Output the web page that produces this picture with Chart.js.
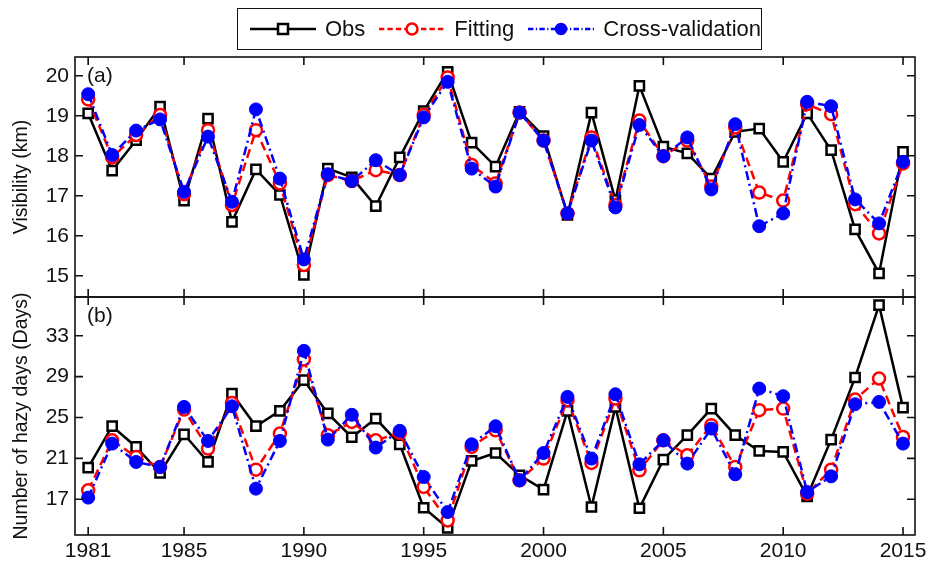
<!DOCTYPE html>
<html>
<head>
<meta charset="utf-8">
<script src="https://cdn.jsdelivr.net/npm/chart.js@4.4.1/dist/chart.umd.min.js"></script>
<style>
  body { margin: 0; background: #fff; }
  #wrap { position: relative; width: 930px; height: 565px; font-family: 'Liberation Sans', Arial, sans-serif; }
  #chartA { position: absolute; left: 0; top: 0; }
  #chartB { position: absolute; left: 0; top: 290px; }
  #legend { position: absolute; left: 237px; top: 8px; width: 525px; height: 42px; box-sizing: border-box;
            border: 1.5px solid #111; display: flex; align-items: center; padding-left: 12px; font-size: 22px; color: #111;
            white-space: nowrap; }
  .item { display: flex; align-items: center; margin-right: 14px; }
  .item svg { margin-right: 9px; }
</style>
</head>
<body>
<div id="wrap">
  <canvas id="chartA" width="930" height="300"></canvas>
  <canvas id="chartB" width="930" height="275"></canvas>
  <div id="legend"></div>
</div>
<script>
const years = [1981,1982,1983,1984,1985,1986,1987,1988,1989,1990,1991,1992,1993,1994,1995,1996,1997,1998,
  1999,2000,2001,2002,2003,2004,2005,2006,2007,2008,2009,2010,2011,2012,2013,2014,2015];
const xTicks = [1981, 1985, 1990, 1995, 2000, 2005, 2010, 2015];
const visTicks = [15, 16, 17, 18, 19, 20];
const hazeTicks = [17, 21, 25, 29, 33];
const seriesNames = ['Obs', 'Fitting', 'Cross-validation'];
const panelLabels = ['(a)', '(b)'];
const visTitle = 'Visibility (km)';
const hazeTitle = 'Number of hazy days (Days)';

// visibility, km
const visObs = [19.06,17.63,18.39,19.23,16.88,18.93,16.35,17.66,17.02,15.02,
  17.68,17.46,16.74,17.96,19.12,20.10,18.33,17.73,19.10,18.49,
  16.52,19.08,16.89,19.75,18.23,18.06,17.43,18.60,18.68,17.85,
  19.06,18.14,16.16,15.06,18.10];
const visFit = [19.41,17.96,18.52,19.02,17.04,18.64,16.77,18.64,17.31,15.27,
  17.52,17.37,17.64,17.52,19.02,19.96,17.77,17.31,19.08,18.38,
  16.56,18.46,16.77,18.88,17.99,18.38,17.23,18.71,17.08,16.88,
  19.29,19.04,16.79,16.06,17.81];
const visCV = [19.54,18.02,18.63,18.91,17.10,18.48,16.85,19.16,17.43,15.41,
  17.54,17.37,17.89,17.52,18.96,19.85,17.68,17.23,19.08,18.38,
  16.56,18.38,16.71,18.77,17.99,18.46,17.16,18.79,16.24,16.56,
  19.35,19.24,16.91,16.31,17.85];

// hazy days
const hazeObs = [20.1,24.15,22.12,19.57,23.36,20.65,27.35,24.15,25.65,28.66,
  25.4,23.07,24.9,22.38,16.17,14.2,20.75,21.53,19.34,17.94,
  25.65,16.24,26.04,16.12,20.88,23.27,25.88,23.27,21.73,21.63,
  17.28,22.84,28.92,36.0,25.97];
const hazeFit = [17.87,22.77,21.14,20.16,25.78,21.96,26.43,19.9,23.43,30.69,
  23.27,24.57,22.77,23.5,18.2,14.93,22.12,23.75,18.85,20.98,
  26.7,20.55,26.86,19.83,22.77,21.3,24.25,20.16,25.72,25.88,
  17.55,19.9,26.76,28.82,23.1];
const hazeCV = [17.16,22.45,20.65,20.16,26.04,22.71,26.1,18.04,22.71,31.53,
  22.84,25.27,22.06,23.7,19.18,15.75,22.38,24.15,18.85,21.53,
  27.02,20.98,27.28,20.42,22.77,20.49,23.92,19.44,27.84,27.09,
  17.71,19.24,26.3,26.53,22.45];

const FONT = "'Liberation Sans', Arial, sans-serif";
Chart.defaults.font.family = FONT;
Chart.defaults.color = '#111';

const styles = [
  { color: '#000', dash: [], pointStyle: 'rect', radius: 6.5, fill: '#fff', bw: 2.5, order: 3 },
  { color: '#f00', dash: [9, 5], pointStyle: 'circle', radius: 6, fill: '#fff', bw: 2.5, order: 2 },
  { color: '#0000ff', dash: [9, 4, 2, 4], pointStyle: 'circle', radius: 6.5, fill: '#0000ff', bw: 1, order: 1 }
];

function makeSets(arrs) {
  return arrs.map((vals, i) => {
    const s = styles[i];
    return {
      label: seriesNames[i],
      data: years.map((yr, k) => ({ x: yr, y: vals[k] })),
      borderColor: s.color,
      borderWidth: 2.5,
      borderDash: s.dash,
      pointStyle: s.pointStyle,
      pointRadius: s.radius,
      pointBorderWidth: s.bw,
      pointBorderColor: s.color,
      pointBackgroundColor: s.fill,
      order: s.order,
      tension: 0,
      clip: false
    };
  });
}

// MATLAB-like box with inward ticks and panel letter
const boxPlugin = {
  id: 'matlabBox',
  afterDraw(chart, args, opts) {
    const { ctx, chartArea: a, scales } = chart;
    const L = 8;
    ctx.save();
    ctx.strokeStyle = '#111';
    ctx.lineWidth = 1.6;
    ctx.strokeRect(a.left, a.top, a.right - a.left, a.bottom - a.top);
    ctx.beginPath();
    xTicks.forEach(v => {
      const px = scales.x.getPixelForValue(v);
      ctx.moveTo(px, a.top); ctx.lineTo(px, a.top + L);
      ctx.moveTo(px, a.bottom); ctx.lineTo(px, a.bottom - L);
    });
    opts.yTicks.forEach(v => {
      const py = scales.y.getPixelForValue(v);
      ctx.moveTo(a.left, py); ctx.lineTo(a.left + L, py);
      ctx.moveTo(a.right, py); ctx.lineTo(a.right - L, py);
    });
    ctx.stroke();
    ctx.font = '21px ' + FONT;
    ctx.fillStyle = '#111';
    ctx.textBaseline = 'middle';
    ctx.fillText(opts.label, a.left + 12, a.top + 19);
    ctx.restore();
  }
};

function makeChart(id, sets, yMin, yMax, yTicks, title, label, showX, pad) {
  return new Chart(document.getElementById(id), {
    type: 'line',
    data: { datasets: sets },
    plugins: [boxPlugin],
    options: {
      responsive: false,
      animation: false,
      layout: { padding: pad, autoPadding: false },
      plugins: {
        legend: { display: false },
        tooltip: { enabled: false },
        matlabBox: { yTicks: yTicks, label: label }
      },
      scales: {
        x: {
          type: 'linear',
          min: 1980.45,
          max: 2015.5,
          grid: { display: false, drawTicks: false },
          border: { display: false },
          afterBuildTicks: s => { s.ticks = xTicks.map(v => ({ value: v })); },
          afterFit: s => { s.height = showX ? 30 : 0; s.paddingLeft = 0; s.paddingRight = 0; },
          ticks: { display: showX, padding: 4, font: { size: 21 }, color: '#111', callback: v => String(v) }
        },
        y: {
          min: yMin,
          max: yMax,
          grid: { display: false, drawTicks: false },
          border: { display: false },
          afterBuildTicks: s => { s.ticks = yTicks.map(v => ({ value: v })); },
          afterFit: s => { s.width = 75; s.paddingTop = 0; s.paddingBottom = 0; },
          ticks: { padding: 6, font: { size: 21 }, color: '#111', callback: v => String(v) },
          title: { display: true, text: title, font: { size: 19.5 }, color: '#111', padding: { top: 10, bottom: 0 } }
        }
      }
    }
  });
}

makeChart('chartA', makeSets([visObs, visFit, visCV]), 14.47, 20.47, visTicks, visTitle, panelLabels[0], false,
  { top: 57, right: 15, bottom: 3, left: 0 });
makeChart('chartB', makeSets([hazeObs, hazeFit, hazeCV]), 13.5, 36.8, hazeTicks, hazeTitle, panelLabels[1], true,
  { top: 7, right: 15, bottom: 0, left: 0 });

// legend with line + marker samples
const legend = document.getElementById('legend');
seriesNames.forEach((name, i) => {
  const s = styles[i];
  const item = document.createElement('div');
  item.className = 'item';
  const mk = s.pointStyle === 'rect'
    ? `<rect x="28" y="5" width="10" height="10" fill="${s.fill}" stroke="${s.color}" stroke-width="2.5"/>`
    : `<circle cx="33" cy="10" r="${i === 2 ? 5 : 5.5}" fill="${s.fill}" stroke="${s.color}" stroke-width="2.5"/>`;
  item.innerHTML = `<svg width="66" height="20"><line x1="0" y1="10" x2="66" y2="10" stroke="${s.color}" stroke-width="2.5"
    stroke-dasharray="${s.dash.length ? s.dash.map(d => d * 0.6).join(',') : 'none'}"/>${mk}</svg><span>${name}</span>`;
  legend.appendChild(item);
});
</script>
</body>
</html>
